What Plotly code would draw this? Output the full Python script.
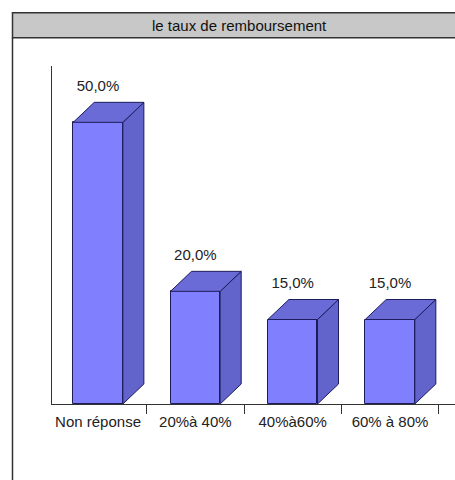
import plotly.graph_objects as go

# Survey results: reimbursement rate
categories = ["Non réponse", "20%à 40%", "40%à60%", "60% à 80%"]
values = [50.0, 20.0, 15.0, 15.0]
title_text = "le taux de remboursement"

# Styling for the pseudo-3D bars
FRONT = "#8080FF"
SIDE = "#6363CC"
TOP = "#6B6BD8"
EDGE = "#1C1C5C"
FONT = "Liberation Sans, Arial, sans-serif"

bar_w = 0.51      # front face width (x units)
depth_x = 0.216   # depth offset, x units
depth_y = 3.55    # depth offset, y units (percent)

xs = list(range(len(categories)))

fig = go.Figure()

# Front faces
fig.add_trace(go.Bar(
    x=xs, y=values, width=bar_w,
    marker=dict(color=FRONT, line=dict(color=EDGE, width=1)),
    hoverinfo="skip", showlegend=False,
))

# Side and top faces, built from each bar's value
for x, v in zip(xs, values):
    r = x + bar_w / 2
    l = x - bar_w / 2
    fig.add_trace(go.Scatter(
        x=[r, r + depth_x, r + depth_x, r, r],
        y=[0, depth_y, v + depth_y, v, 0],
        mode="lines", fill="toself", fillcolor=SIDE,
        line=dict(color=EDGE, width=1), hoverinfo="skip", showlegend=False,
    ))
    fig.add_trace(go.Scatter(
        x=[l, r, r + depth_x, l + depth_x, l],
        y=[v, v, v + depth_y, v + depth_y, v],
        mode="lines", fill="toself", fillcolor=TOP,
        line=dict(color=EDGE, width=1), hoverinfo="skip", showlegend=False,
    ))

# Value labels above each bar
fig.add_trace(go.Scatter(
    x=xs, y=[v + depth_y + 2.7 for v in values],
    mode="text",
    text=[f"{v:.1f}".replace(".", ",") + "%" for v in values],
    textposition="middle center",
    textfont=dict(family=FONT, size=15, color="#222222"),
    hoverinfo="skip", showlegend=False,
))

W, H = 455, 480
ml, mr, mt, mb = 52, 0, 66, 76
pw, ph = W - ml - mr, H - mt - mb


def px_to_paper_x(px):
    return (px - ml) / pw


def px_to_paper_y(py):
    return (H - mb - py) / ph


shapes = [
    # title band
    dict(type="rect", xref="paper", yref="paper",
         x0=px_to_paper_x(12.5), x1=px_to_paper_x(470),
         y0=px_to_paper_y(37.7), y1=px_to_paper_y(12.7),
         fillcolor="#C8C8C8", line=dict(color="#333333", width=1.5), layer="below"),
    # left frame edge
    dict(type="line", xref="paper", yref="paper",
         x0=px_to_paper_x(12.5), x1=px_to_paper_x(12.5),
         y0=px_to_paper_y(37.7), y1=px_to_paper_y(490),
         line=dict(color="#333333", width=1.5)),
]

fig.update_layout(
    width=W, height=H,
    margin=dict(l=ml, r=mr, t=mt, b=mb, pad=0),
    paper_bgcolor="white", plot_bgcolor="white",
    font=dict(family=FONT, size=15, color="#222222"),
    bargap=0,
    shapes=shapes,
    annotations=[dict(
        text=title_text, xref="paper", yref="paper",
        x=px_to_paper_x(239.5), y=px_to_paper_y(25.5),
        xanchor="center", yanchor="middle", showarrow=False,
        font=dict(family=FONT, size=15, color="#111111"),
    )],
    xaxis=dict(
        range=[-0.473, 3.668],
        tickmode="array", tickvals=xs, ticktext=categories,
        ticks="outside", ticklen=4, tickcolor="rgba(0,0,0,0)",
        tickfont=dict(family=FONT, size=15, color="#222222"),
        showline=True, linecolor="#333333", linewidth=1,
        showgrid=False, zeroline=False, fixedrange=True,
        minor=dict(tickmode="array", tickvals=[0.5, 1.5, 2.5, 3.5],
                   ticks="outside", ticklen=9, tickcolor="#333333",
                   tickwidth=1, showgrid=False),
    ),
    yaxis=dict(
        range=[0, 60], showticklabels=False, ticks="",
        showline=True, linecolor="#333333", linewidth=1,
        showgrid=False, zeroline=False, fixedrange=True,
    ),
)

fig.write_html("out.html")
